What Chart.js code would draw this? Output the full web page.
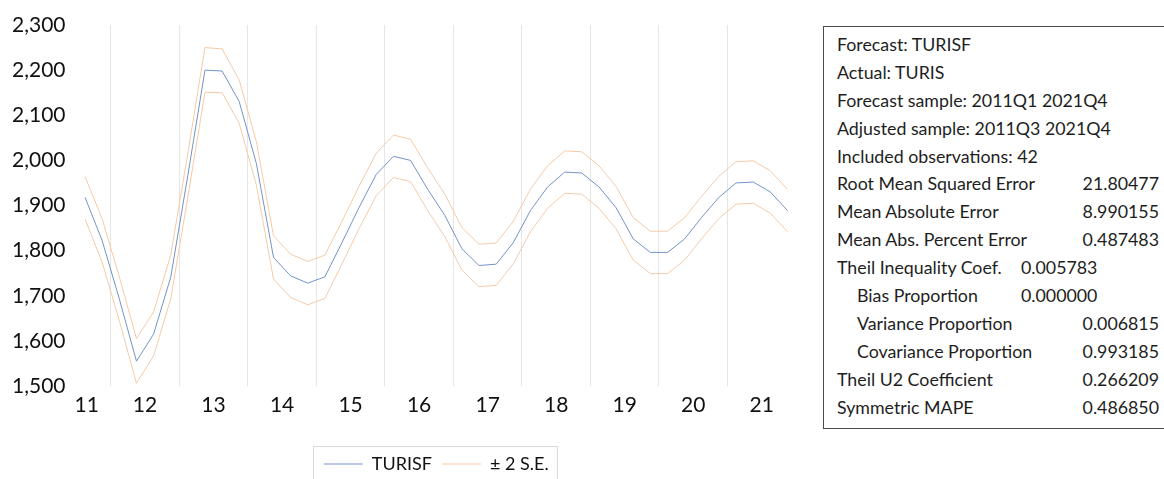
<!DOCTYPE html>
<html>
<head>
<meta charset="utf-8">
<script src="https://cdn.jsdelivr.net/npm/chart.js@4.4.1/dist/chart.umd.min.js"></script>
<style>
  body { margin: 0; background: #fff; font-family: Lato, sans-serif; }
  #wrap { position: relative; width: 1164px; height: 479px; overflow: hidden; }
  #chartBox { position: absolute; left: 0; top: 0; width: 796px; height: 479px; }
  #stats {
    position: absolute; left: 823px; top: 26px; width: 345px; height: 403px;
    border: 1px solid #4a4a4a; padding-top: 4px; box-sizing: border-box;
    font-size: 17.8px; color: #1e1e1e;
  }
  .row { position: relative; height: 27.9px; line-height: 27.9px; white-space: nowrap; }
  .row .lab { position: absolute; left: 13px; }
  .row .lab.ind { left: 33px; }
  .row .val { position: absolute; right: 8px; }
  .row .mid { position: absolute; left: 197px; }
</style>
</head>
<body>
<div id="wrap">
  <div id="chartBox"><canvas id="forecastChart"></canvas></div>
  <div id="stats"></div>
</div>
<script>
// sample starts 2011Q3, quarterly through 2021Q4
const startYear = 2011;
const startQuarter = 3;
const yearLabels = ['11', '12', '13', '14', '15', '16', '17', '18', '19', '20', '21'];

// TURISF forecast
const turisf = [1918, 1822, 1693, 1555, 1615, 1741, 1967, 2200, 2198, 2130,
  1993, 1785, 1744, 1728, 1742, 1818, 1896, 1969, 2009, 2000,
  1936, 1878, 1804, 1767, 1770, 1818, 1889, 1941, 1974, 1972,
  1941, 1895, 1826, 1796, 1796, 1826, 1874, 1918, 1950, 1952,
  1930, 1889];

// +2 S.E. and -2 S.E. bands
const upperBand = [1964, 1870, 1742, 1605, 1664, 1790, 2016, 2250, 2247, 2178,
  2041, 1833, 1792, 1776, 1790, 1865, 1943, 2016, 2056, 2047,
  1983, 1925, 1851, 1814, 1817, 1865, 1936, 1988, 2021, 2019,
  1988, 1942, 1873, 1843, 1843, 1873, 1921, 1965, 1997, 1999,
  1977, 1936];
const lowerBand = [1870, 1774, 1645, 1506, 1567, 1693, 1919, 2151, 2150, 2082,
  1945, 1737, 1696, 1680, 1694, 1771, 1849, 1922, 1962, 1953,
  1889, 1831, 1757, 1720, 1723, 1771, 1842, 1894, 1927, 1925,
  1894, 1848, 1779, 1749, 1749, 1779, 1827, 1871, 1903, 1905,
  1883, 1842];

const yTicks = [1500, 1600, 1700, 1800, 1900, 2000, 2100, 2200, 2300];

// forecast evaluation table
const statLabels = ['Forecast: TURISF', 'Actual: TURIS', 'Forecast sample: 2011Q1 2021Q4',
  'Adjusted sample: 2011Q3 2021Q4', 'Included observations: 42',
  'Root Mean Squared Error', 'Mean Absolute Error', 'Mean Abs. Percent Error',
  'Theil Inequality Coef.', 'Bias Proportion', 'Variance Proportion',
  'Covariance Proportion', 'Theil U2 Coefficient', 'Symmetric MAPE'];
const statValues = ['', '', '', '', '', '21.80477', '8.990155', '0.487483',
  '0.005783', '0.000000', '0.006815', '0.993185', '0.266209', '0.486850'];

// fill the stats box
const statsBox = document.getElementById('stats');
statLabels.forEach((label, i) => {
  const row = document.createElement('div');
  row.className = 'row';
  const indent = i >= 9 && i <= 11 ? ' ind' : '';
  const valClass = i === 8 || i === 9 ? 'mid' : 'val';
  row.innerHTML = `<span class="lab${indent}">${label}</span><span class="${valClass}">${statValues[i]}</span>`;
  statsBox.appendChild(row);
});

// x position of each quarter: middle of its quarter slot
const toPoints = (values) => values.map((v, i) => {
  const q = startQuarter - 1 + i;
  return { x: startYear + Math.floor(q / 4) + ((q % 4) + 0.5) / 4, y: v };
});

const xMin = 2011.5;
const xMax = 2022;

// label positions: middle of the visible part of each year
const labelPos = {};
yearLabels.forEach((lab, i) => {
  const y = startYear + i;
  labelPos[Math.max(y + 0.5, xMin + 0.15).toFixed(2)] = lab;
});

const legendBox = {
  id: 'legendBox',
  afterDraw(chart) {
    const boxes = chart.legend.legendHitBoxes;
    if (!boxes || !boxes.length) return;
    const first = boxes[0];
    const last = boxes[boxes.length - 1];
    const ctx = chart.ctx;
    ctx.save();
    ctx.strokeStyle = '#dadada';
    ctx.lineWidth = 1;
    const left = Math.round(first.left - 11) + 0.5;
    const right = Math.round(last.left + last.width + 8) + 0.5;
    const top = Math.round(first.top + first.height / 2 - 18) + 0.5;
    ctx.strokeRect(left, top, right - left, 60);
    ctx.restore();
  }
};

const ctx = document.getElementById('forecastChart').getContext('2d');
new Chart(ctx, {
  type: 'line',
  data: {
    datasets: [
      {
        label: 'TURISF',
        data: toPoints(turisf),
        borderColor: '#7393c9',
        borderWidth: 1,
        pointRadius: 0,
      },
      {
        label: '\u00b1 2 S.E.',
        data: toPoints(upperBand),
        borderColor: '#f5caa8',
        borderWidth: 1,
        pointRadius: 0,
      },
      {
        label: 'lower',
        data: toPoints(lowerBand),
        borderColor: '#f5caa8',
        borderWidth: 1,
        pointRadius: 0,
      },
    ],
  },
  options: {
    responsive: true,
    maintainAspectRatio: false,
    animation: false,
    layout: { padding: { top: 25, right: 0, left: 0, bottom: -4 } },
    scales: {
      x: {
        type: 'linear',
        min: xMin,
        max: xMax,
        afterBuildTicks: (scale) => {
          const ticks = [];
          yearLabels.forEach((lab, i) => {
            const y = startYear + i;
            ticks.push({ value: Math.max(y + 0.5, xMin + 0.15) });
            if (y + 1 < xMax) ticks.push({ value: y + 1 });
          });
          scale.ticks = ticks;
        },
        afterFit: (scale) => { scale.height = 59; },
        grid: {
          drawTicks: false,
          color: (c) => (c.tick && Number.isInteger(c.tick.value) ? '#e6e6e6' : 'rgba(0,0,0,0)'),
        },
        border: { display: false },
        ticks: {
          autoSkip: false,
          maxRotation: 0,
          padding: 7,
          color: '#111',
          font: { family: 'Lato', size: 21 },
          callback: (v) => labelPos[Number(v).toFixed(2)] || '',
        },
      },
      y: {
        min: 1500,
        max: 2300,
        afterBuildTicks: (scale) => { scale.ticks = yTicks.map((v) => ({ value: v })); },
        afterFit: (scale) => { scale.width = 76.5; },
        grid: { display: false },
        border: { display: false },
        ticks: {
          padding: 3,
          color: '#111',
          font: { family: 'Lato', size: 21 },
          callback: (v) => v.toLocaleString('en-US'),
        },
      },
    },
    plugins: {
      legend: {
        position: 'bottom',
        fullSize: false,
        labels: {
          usePointStyle: true,
          pointStyle: 'line',
          pointStyleWidth: 39,
          padding: 10,
          color: '#111',
          font: { family: 'Lato', size: 18 },
          filter: (item) => item.datasetIndex < 2,
        },
      },
      tooltip: { enabled: false },
    },
  },
  plugins: [legendBox],
});
</script>
</body>
</html>
